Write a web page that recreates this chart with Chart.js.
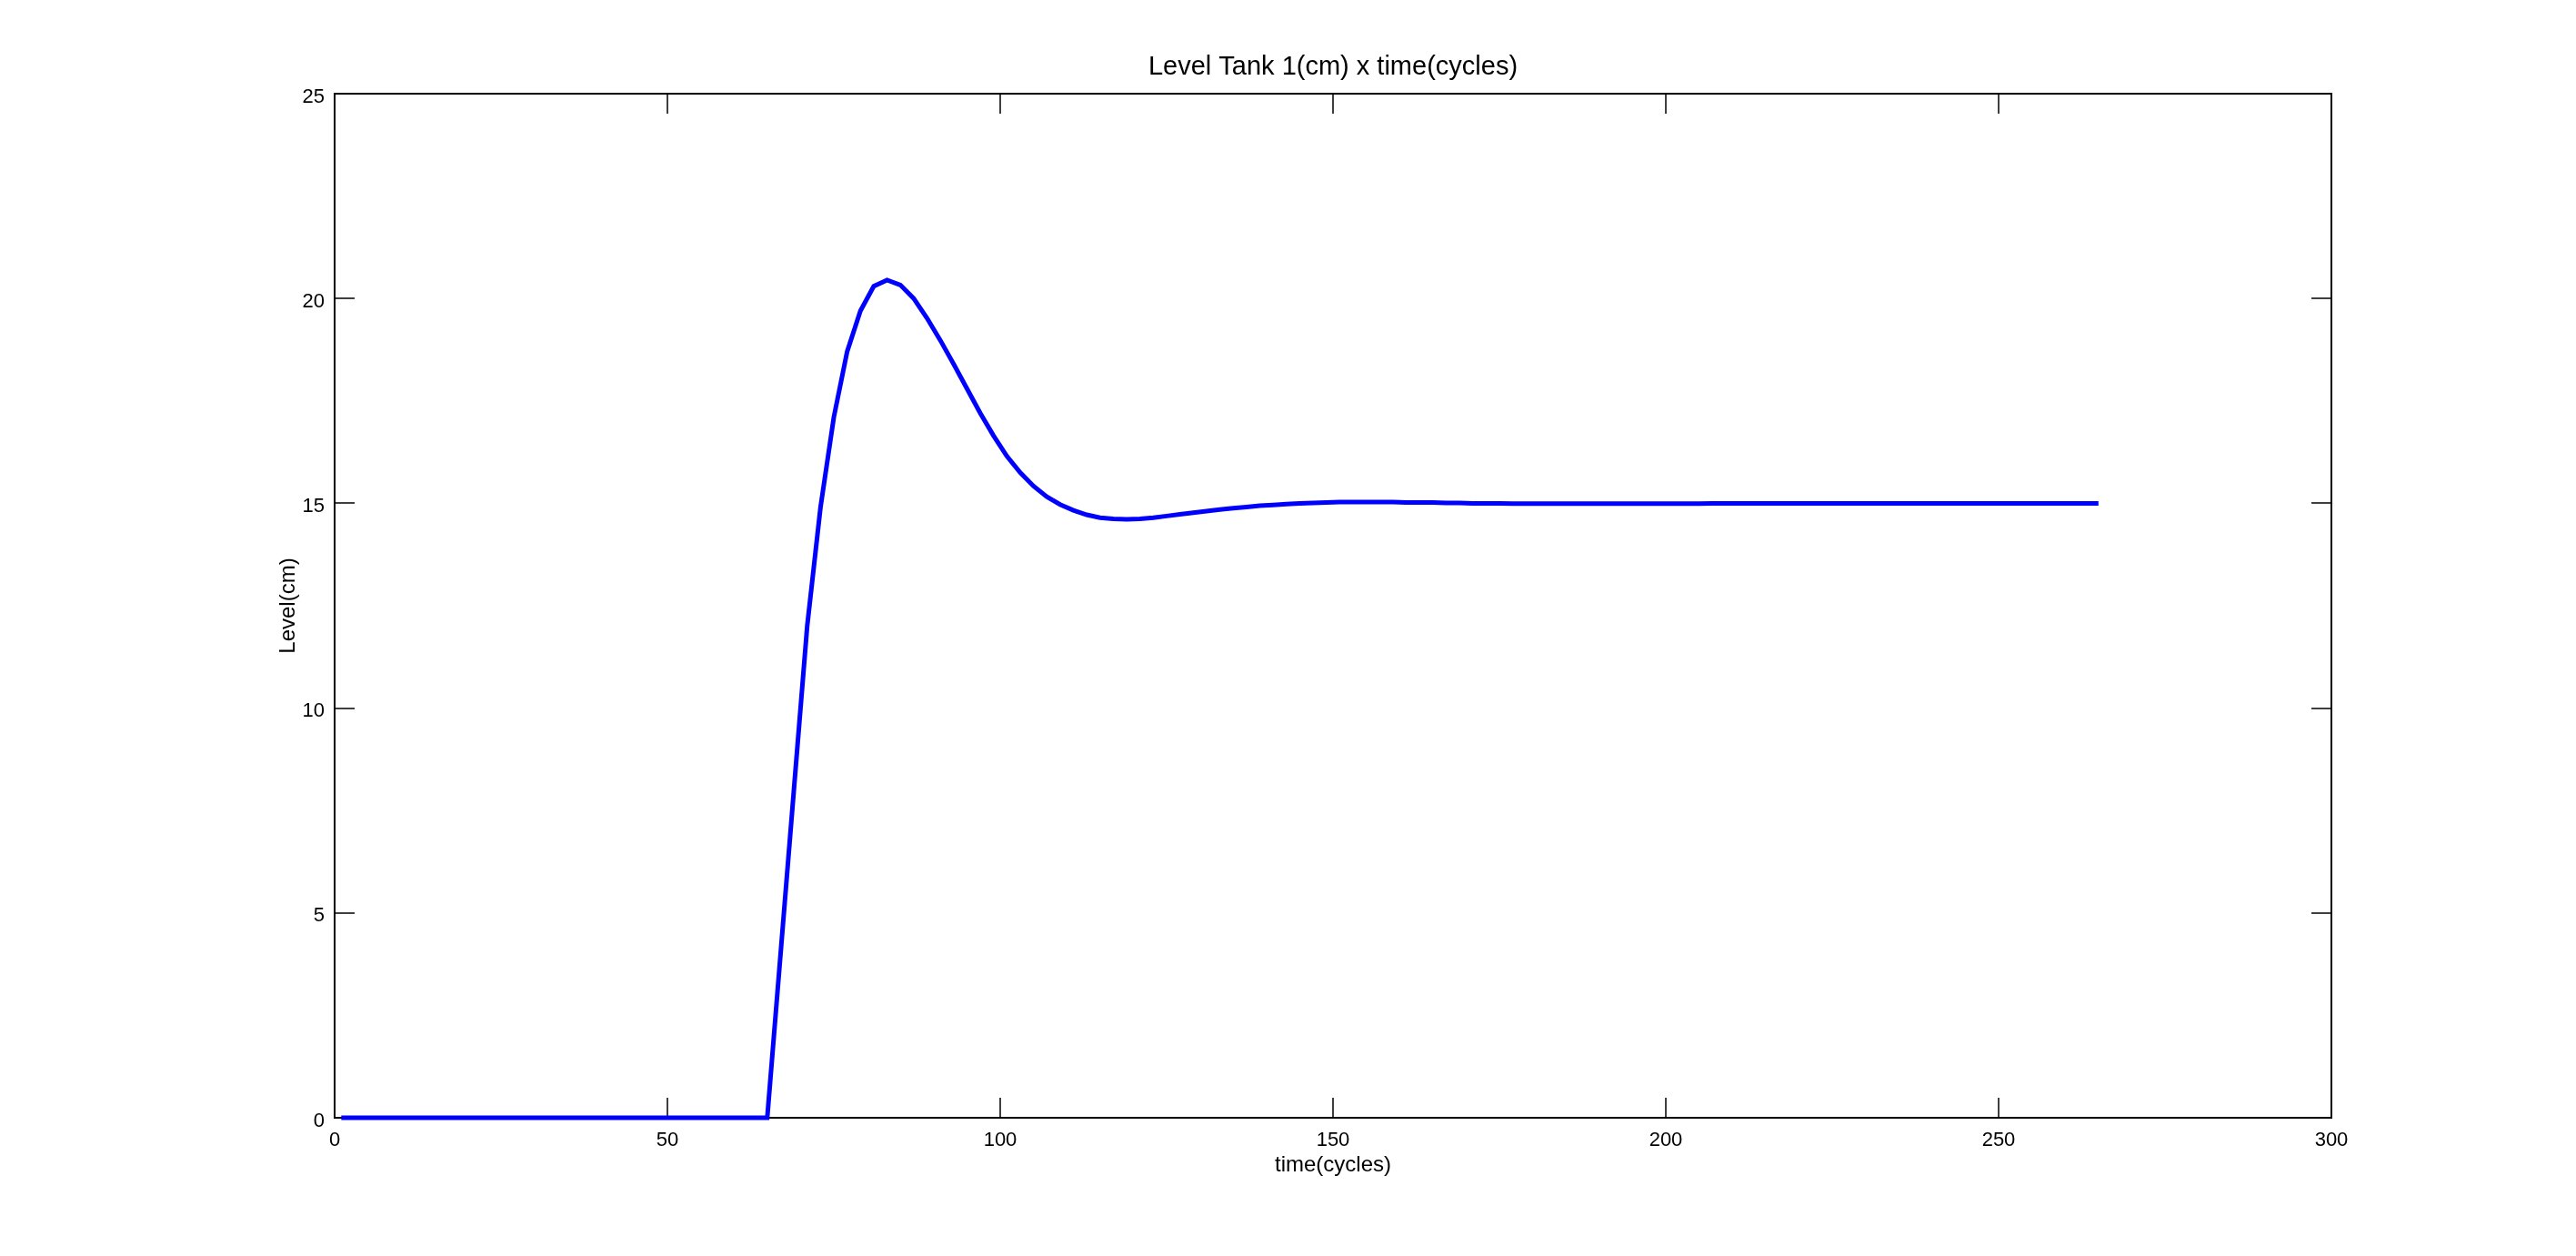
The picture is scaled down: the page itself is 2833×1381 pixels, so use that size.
<!DOCTYPE html>
<html>
<head>
<meta charset="utf-8">
<script src="https://cdn.jsdelivr.net/npm/chart.js@4.4.1/dist/chart.umd.min.js"></script>
<style>
html, body { margin: 0; padding: 0; background: #ffffff; }
#wrap { width: 2833px; height: 1381px; }
</style>
</head>
<body>
<div id="wrap"><canvas id="c" width="2833" height="1381"></canvas></div>
<script>
// ---- data ----
const timeCycles = [
  1, 3, 5, 7, 9, 11, 13, 15, 17, 19, 21, 23, 25, 27, 29, 31, 33, 35, 37, 39,
  41, 43, 45, 47, 49, 51, 53, 55, 57, 59, 61, 63, 65, 67, 69, 71, 73, 75, 77, 79,
  81, 83, 85, 87, 89, 91, 93, 95, 97, 99, 101, 103, 105, 107, 109, 111, 113, 115, 117, 119,
  121, 123, 125, 127, 129, 131, 133, 135, 137, 139, 141, 143, 145, 147, 149, 151, 153, 155, 157, 159,
  161, 163, 165, 167, 169, 171, 173, 175, 177, 179, 181, 183, 185, 187, 189, 191, 193, 195, 197, 199,
  201, 203, 205, 207, 209, 211, 213, 215, 217, 219, 221, 223, 225, 227, 229, 231, 233, 235, 237, 239,
  241, 243, 245, 247, 249, 251, 253, 255, 257, 259, 261, 263, 265
];
const levelCm = [
  0, 0, 0, 0, 0, 0, 0, 0, 0, 0, 0, 0, 0, 0, 0, 0, 0, 0, 0, 0,
  0, 0, 0, 0, 0, 0, 0, 0, 0, 0, 0, 0, 0, 4.0, 8.0, 12.0, 14.9, 17.1, 18.7, 19.7,
  20.3, 20.45, 20.33, 20.0, 19.52, 18.98, 18.4, 17.8, 17.2, 16.65, 16.15, 15.75, 15.42, 15.16, 14.97, 14.83, 14.72, 14.65, 14.62, 14.61,
  14.62, 14.65, 14.69, 14.73, 14.77, 14.81, 14.85, 14.88, 14.91, 14.94, 14.96, 14.98, 15.0, 15.01, 15.02, 15.03, 15.03, 15.03, 15.03, 15.03,
  15.02, 15.02, 15.02, 15.01, 15.01, 15.0, 15.0, 15.0, 14.99, 14.99, 14.99, 14.99, 14.99, 14.99, 14.99, 14.99, 14.99, 14.99, 14.99, 14.99,
  14.99, 14.99, 14.99, 15.0, 15.0, 15.0, 15.0, 15.0, 15.0, 15.0, 15.0, 15.0, 15.0, 15.0, 15.0, 15.0, 15.0, 15.0, 15.0, 15.0,
  15.0, 15.0, 15.0, 15.0, 15.0, 15.0, 15.0, 15.0, 15.0, 15.0, 15.0, 15.0, 15.0
];
const xTickValues = [0, 50, 100, 150, 200, 250, 300];
const yTickValues = [0, 5, 10, 15, 20, 25];
const chartTitle = 'Level Tank 1(cm) x time(cycles)';
const xAxisTitle = 'time(cycles)';
const yAxisTitle = 'Level(cm)';

// ---- chart ----
const FONT = "'Liberation Sans', Arial, Helvetica, sans-serif";
const points = timeCycles.map((t, i) => ({ x: t, y: levelCm[i] }));

const framePlugin = {
  id: 'frame',
  beforeDatasetsDraw(chart) {
    const { ctx, chartArea: a, scales } = chart;
    const xs = scales.x, ys = scales.y;
    const L = 22;
    ctx.save();
    ctx.strokeStyle = '#000000';
    ctx.lineWidth = 2;
    ctx.strokeRect(a.left, a.top, a.right - a.left, a.bottom - a.top);
    ctx.beginPath();
    xs.ticks.forEach(t => {
      const px = Math.round(xs.getPixelForValue(t.value));
      ctx.moveTo(px, a.bottom); ctx.lineTo(px, a.bottom - L);
      ctx.moveTo(px, a.top); ctx.lineTo(px, a.top + L);
    });
    ys.ticks.forEach(t => {
      const py = Math.round(ys.getPixelForValue(t.value));
      ctx.moveTo(a.left, py); ctx.lineTo(a.left + L, py);
      ctx.moveTo(a.right, py); ctx.lineTo(a.right - L, py);
    });
    ctx.lineWidth = 1.5;
    ctx.stroke();
    ctx.restore();
  }
};

new Chart(document.getElementById('c'), {
  type: 'line',
  data: {
    datasets: [{
      data: points,
      borderColor: '#0000ff',
      borderWidth: 5,
      pointRadius: 0,
      pointHoverRadius: 0,
      tension: 0,
      fill: false,
      clip: false
    }]
  },
  options: {
    responsive: false,
    animation: false,
    devicePixelRatio: 1,
    layout: { padding: { left: 0, right: 269, top: 0, bottom: 0 } },
    plugins: {
      legend: { display: false },
      tooltip: { enabled: false },
      title: {
        display: true,
        text: chartTitle,
        color: '#000000',
        fullSize: false,
        font: { family: FONT, size: 29, weight: 'normal' },
        padding: { top: 56.6, bottom: 11.6 }
      }
    },
    scales: {
      x: {
        type: 'linear',
        min: 0, max: 300,
        afterBuildTicks: s => { s.ticks = xTickValues.map(v => ({ value: v })); },
        ticks: {
          color: '#000000',
          font: { family: FONT, size: 22 },
          padding: 12,
          maxRotation: 0,
          autoSkip: false
        },
        grid: { display: false, drawTicks: false },
        border: { display: false },
        title: {
          display: true,
          text: xAxisTitle,
          color: '#000000',
          font: { family: FONT, size: 24 },
          padding: { top: 0, bottom: 85.6 }
        },
        afterFit: s => { s.height = 152; }
      },
      y: {
        type: 'linear',
        min: 0, max: 25,
        afterBuildTicks: s => { s.ticks = yTickValues.map(v => ({ value: v })); },
        ticks: {
          color: '#000000',
          font: { family: FONT, size: 22 },
          padding: 11,
          labelOffset: 3.5
        },
        grid: { display: false, drawTicks: false },
        border: { display: false },
        title: {
          display: true,
          text: yAxisTitle,
          color: '#000000',
          font: { family: FONT, size: 24 },
          padding: { top: 302.6, bottom: 0 }
        },
        afterFit: s => { s.width = 368; }
      }
    }
  },
  plugins: [framePlugin]
});
</script>
</body>
</html>
